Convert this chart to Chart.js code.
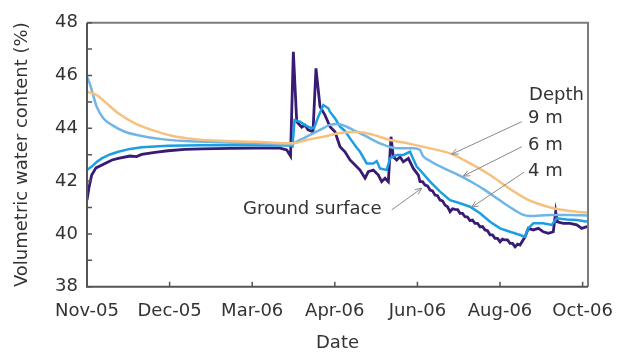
<!DOCTYPE html>
<html>
<head>
<meta charset="utf-8">
<script src="https://cdn.jsdelivr.net/npm/chart.js@4/dist/chart.umd.min.js"></script>
<style>
  html, body { margin: 0; padding: 0; background: #ffffff; }
  #wrap { width: 631px; height: 352px; }
</style>
</head>
<body>
<div id="wrap"><canvas id="c" width="631" height="352"></canvas></div>
<script>
// Month labels sit at evenly spaced positions 0..6 along the x axis
const monthLabels = ['Nov-05', 'Dec-05', 'Mar-06', 'Apr-06', 'Jun-06', 'Aug-06', 'Oct-06'];
const yTickValues = [38, 39, 40, 41, 42, 43, 44, 45, 46, 47, 48];

// [position, volumetric water content %]
const groundSurface = [
  [0, 41.28], [0.023, 41.74], [0.057, 42.23], [0.109, 42.50], [0.218, 42.67], [0.303, 42.80],
  [0.379, 42.86], [0.521, 42.95], [0.60, 42.93], [0.662, 43.01], [0.823, 43.09], [0.981, 43.15],
  [1.186, 43.20], [1.389, 43.22], [1.731, 43.24], [2.034, 43.25], [2.337, 43.25], [2.418, 43.18],
  [2.464, 42.95], [2.498, 46.90], [2.539, 44.25], [2.599, 44.04], [2.639, 44.12], [2.676, 43.94],
  [2.736, 43.87], [2.772, 46.27], [2.821, 44.82], [2.881, 44.50], [2.942, 44.06], [3.002, 43.87],
  [3.063, 43.30], [3.123, 43.11], [3.184, 42.80], [3.245, 42.61], [3.305, 42.42], [3.366, 42.11],
  [3.406, 42.36], [3.466, 42.42], [3.527, 42.23], [3.567, 41.98], [3.608, 42.11], [3.648, 41.98],
  [3.680, 43.68], [3.708, 42.92], [3.749, 42.80], [3.789, 42.92], [3.829, 42.73], [3.890, 42.86],
  [3.950, 42.48], [4.011, 42.23], [4.031, 41.98], [4.062, 41.98], [4.092, 41.85], [4.122, 41.82],
  [4.153, 41.66], [4.183, 41.63], [4.213, 41.47], [4.243, 41.45], [4.274, 41.28], [4.304, 41.25],
  [4.334, 41.09], [4.364, 41.03], [4.395, 40.84], [4.425, 40.95], [4.455, 40.93], [4.486, 40.92],
  [4.516, 40.78], [4.546, 40.78], [4.576, 40.65], [4.607, 40.64], [4.637, 40.50], [4.667, 40.52],
  [4.697, 40.40], [4.728, 40.40], [4.758, 40.27], [4.788, 40.28], [4.818, 40.15], [4.849, 40.12],
  [4.879, 39.96], [4.909, 39.96], [4.939, 39.83], [4.970, 39.83], [5.000, 39.70], [5.030, 39.80],
  [5.061, 39.77], [5.091, 39.77], [5.121, 39.64], [5.151, 39.64], [5.182, 39.51], [5.212, 39.61],
  [5.242, 39.58], [5.303, 39.89], [5.343, 40.21], [5.403, 40.15], [5.464, 40.21], [5.524, 40.08],
  [5.585, 40.02], [5.645, 40.08], [5.674, 40.84], [5.694, 40.46], [5.766, 40.40], [5.847, 40.40],
  [5.929, 40.34], [5.989, 40.21], [6.050, 40.27], [6.065, 40.26]
];

const depth4m = [
  [0, 42.42], [0.057, 42.55], [0.117, 42.72], [0.178, 42.86], [0.278, 43.01], [0.379, 43.11],
  [0.521, 43.22], [0.662, 43.28], [0.984, 43.34], [1.368, 43.36], [2.034, 43.36], [2.458, 43.35],
  [2.488, 43.31], [2.512, 44.31], [2.579, 44.25], [2.639, 44.12], [2.700, 44.03], [2.748, 44.00],
  [2.800, 44.44], [2.861, 44.88], [2.921, 44.76], [2.942, 44.62], [3.002, 44.38], [3.063, 44.06],
  [3.123, 43.90], [3.184, 43.62], [3.265, 43.26], [3.305, 43.11], [3.386, 42.67], [3.466, 42.67],
  [3.507, 42.76], [3.547, 42.48], [3.628, 42.42], [3.668, 42.86], [3.749, 42.99], [3.829, 42.99],
  [3.910, 43.11], [3.991, 42.55], [4.031, 42.42], [4.153, 41.98], [4.274, 41.60], [4.395, 41.28],
  [4.516, 41.16], [4.637, 41.03], [4.758, 40.78], [4.879, 40.46], [5.000, 40.21], [5.121, 40.08],
  [5.242, 39.96], [5.303, 39.89], [5.343, 40.22], [5.403, 40.40], [5.524, 40.40], [5.626, 40.34],
  [5.686, 40.59], [5.807, 40.55], [5.929, 40.53], [6.065, 40.46]
];

const depth6m = [
  [0, 45.95], [0.030, 45.72], [0.057, 45.45], [0.117, 44.82], [0.197, 44.38], [0.299, 44.13],
  [0.460, 43.87], [0.662, 43.71], [0.904, 43.59], [1.186, 43.52], [1.590, 43.47], [2.034, 43.43],
  [2.458, 43.39], [2.579, 43.56], [2.700, 43.75], [2.821, 43.94], [2.942, 44.13], [3.027, 44.16],
  [3.144, 44.06], [3.245, 43.90], [3.345, 43.75], [3.547, 43.43], [3.749, 43.24], [3.950, 43.24],
  [4.031, 43.18], [4.068, 42.95], [4.153, 42.76], [4.310, 42.50], [4.455, 42.29], [4.576, 42.10],
  [4.697, 41.89], [4.818, 41.66], [4.939, 41.40], [5.061, 41.13], [5.182, 40.89], [5.266, 40.74],
  [5.363, 40.68], [5.605, 40.72], [5.847, 40.72], [6.065, 40.70]
];

const depth9m = [
  [0, 45.39], [0.117, 45.26], [0.218, 45.00], [0.379, 44.57], [0.581, 44.19], [0.783, 43.94],
  [1.025, 43.72], [1.308, 43.59], [1.671, 43.52], [2.034, 43.49], [2.498, 43.43], [2.660, 43.56],
  [2.861, 43.68], [3.063, 43.82], [3.265, 43.86], [3.466, 43.75], [3.668, 43.56], [3.910, 43.41],
  [4.153, 43.24], [4.395, 43.05], [4.637, 42.67], [4.879, 42.23], [5.121, 41.70], [5.323, 41.32],
  [5.444, 41.16], [5.645, 40.97], [5.847, 40.87], [6.065, 40.80]
];

// Callout texts and leader arrows, in axis units
const calloutTexts = [
  { text: 'Depth', at: [5.351, 45.26] },
  { text: '9 m', at: [5.339, 44.39] },
  { text: '6 m', at: [5.339, 43.36] },
  { text: '4 m', at: [5.339, 42.38] },
  { text: 'Ground surface', at: [1.889, 40.92] }
];
const calloutArrows = [
  { from: [5.263, 44.25], to: [4.415, 43.02] },
  { from: [5.263, 43.30], to: [4.556, 42.19] },
  { from: [5.291, 42.34], to: [4.657, 41.01] },
  { from: [3.689, 40.91], to: [4.052, 41.73] }
];

const FONT = '"DejaVu Sans", "Liberation Sans", Arial, sans-serif';
const TEXT = '#333333';
const toPoints = arr => arr.map(([x, y]) => ({ x, y }));

// Frame, inward tick marks and callouts
const decorPlugin = {
  id: 'decor',
  afterDraw(chart) {
    const { ctx, chartArea: a, scales: { x, y } } = chart;
    ctx.save();
    ctx.lineWidth = 2;
    ctx.strokeStyle = '#7c7c7c';
    ctx.beginPath();
    ctx.moveTo(a.left, a.top); ctx.lineTo(a.right, a.top); ctx.lineTo(a.right, a.bottom);
    ctx.stroke();
    ctx.strokeStyle = '#555555';
    ctx.beginPath();
    ctx.moveTo(a.left, a.top); ctx.lineTo(a.left, a.bottom); ctx.lineTo(a.right, a.bottom);
    ctx.stroke();

    ctx.lineWidth = 1.5;
    ctx.beginPath();
    yTickValues.forEach(v => {
      const py = y.getPixelForValue(v);
      ctx.moveTo(a.left, py); ctx.lineTo(a.left + 5, py);
    });
    monthLabels.forEach((_, i) => {
      const px = x.getPixelForValue(i);
      ctx.moveTo(px, a.bottom); ctx.lineTo(px, a.bottom - 5);
    });
    ctx.stroke();

    // leader arrows
    ctx.strokeStyle = '#8a8a8a';
    ctx.lineWidth = 1;
    calloutArrows.forEach(({ from, to }) => {
      const x1 = x.getPixelForValue(from[0]), y1 = y.getPixelForValue(from[1]);
      const x2 = x.getPixelForValue(to[0]), y2 = y.getPixelForValue(to[1]);
      const ang = Math.atan2(y2 - y1, x2 - x1);
      const head = 7, spread = 0.42;
      ctx.beginPath();
      ctx.moveTo(x1, y1); ctx.lineTo(x2, y2);
      ctx.moveTo(x2 - head * Math.cos(ang - spread), y2 - head * Math.sin(ang - spread));
      ctx.lineTo(x2, y2);
      ctx.lineTo(x2 - head * Math.cos(ang + spread), y2 - head * Math.sin(ang + spread));
      ctx.stroke();
    });

    ctx.fillStyle = TEXT;
    ctx.font = '18px ' + FONT;
    ctx.textAlign = 'left';
    ctx.textBaseline = 'middle';
    calloutTexts.forEach(({ text, at }) => {
      ctx.fillText(text, x.getPixelForValue(at[0]), y.getPixelForValue(at[1]));
    });
    ctx.restore();
  }
};

const lineStyle = (label, data, color, width, smooth, order) => ({
  label,
  data: toPoints(data),
  borderColor: color,
  backgroundColor: color,
  borderWidth: width,
  pointRadius: 0,
  fill: false,
  tension: 0,
  cubicInterpolationMode: smooth ? 'monotone' : 'default',
  order
});

new Chart(document.getElementById('c'), {
  type: 'line',
  data: {
    datasets: [
      lineStyle('9 m', depth9m, '#f8c07e', 2.5, true, 1),
      lineStyle('6 m', depth6m, '#6fb6e6', 2.5, true, 2),
      lineStyle('4 m', depth4m, '#1c9fe2', 2.5, false, 3),
      lineStyle('Ground surface', groundSurface, '#381b72', 2.8, false, 4)
    ]
  },
  options: {
    responsive: false,
    animation: false,
    events: [],
    layout: { padding: { top: 22.7, right: 43, left: 0, bottom: 0 } },
    plugins: { legend: { display: false }, tooltip: { enabled: false } },
    scales: {
      x: {
        type: 'linear',
        min: 0,
        max: 6.065,
        grid: { display: false, drawTicks: false },
        border: { display: false },
        afterBuildTicks: s => { s.ticks = monthLabels.map((_, i) => ({ value: i })); },
        afterFit: s => { s.height = 65.3; },
        ticks: {
          autoSkip: false,
          maxRotation: 0,
          padding: 14,
          color: TEXT,
          font: { family: FONT, size: 18 },
          callback: v => monthLabels[v]
        },
        title: {
          display: true,
          text: 'Date',
          color: TEXT,
          font: { family: FONT, size: 18 },
          padding: { top: 0, bottom: -2 }
        }
      },
      y: {
        type: 'linear',
        min: 38,
        max: 48,
        grid: { display: false, drawTicks: false },
        border: { display: false },
        afterBuildTicks: s => { s.ticks = yTickValues.map(v => ({ value: v })); },
        afterFit: s => { s.width = 87; },
        ticks: {
          autoSkip: false,
          padding: 9,
          color: TEXT,
          font: { family: FONT, size: 18 },
          callback: v => (v % 2 === 0 ? String(v) : '')
        },
        title: {
          display: true,
          text: 'Volumetric water content (%)',
          color: TEXT,
          font: { family: FONT, size: 18 },
          padding: { top: 12, bottom: 0 }
        }
      }
    }
  },
  plugins: [decorPlugin]
});
</script>
</body>
</html>
